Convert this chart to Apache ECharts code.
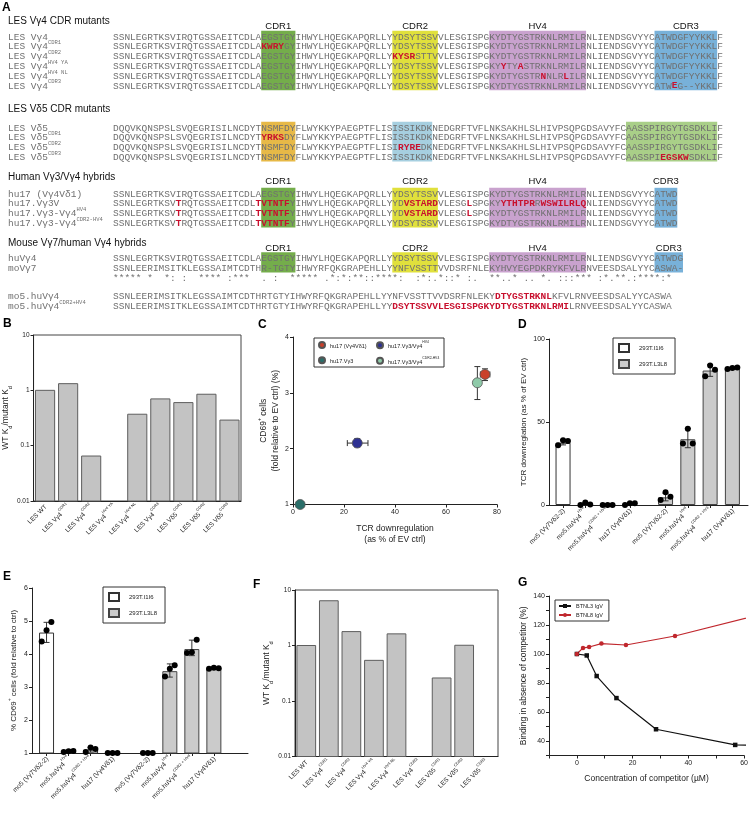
<!DOCTYPE html>
<html lang="en">
<head>
<meta charset="utf-8">
<title>Vγ4 CDR mutants and hybrids</title>
<script src="https://cdn.jsdelivr.net/npm/echarts@6.0.0/dist/echarts.min.js"></script>
</head>
<body style="margin:0;background:#fff">
<div id="main" style="width:751px;height:823px"></div>
<script>
// ---------- panel A : sequence alignments ----------
const regionNames = ['CDR1', 'CDR2', 'HV4', 'CDR3'];

const g4Labels = ['LES Vγ4', 'LES Vγ4^CDR1', 'LES Vγ4^CDR2', 'LES Vγ4^HV4 YA', 'LES Vγ4^HV4 NL', 'LES Vγ4^CDR3'];
const g4Seqs = [
  'SSNLEGRTKSVIRQTGSSAEITCDLAEGSTGYIHWYLHQEGKAPQRLLYYDSYTSSVVLESGISPGKYDTYGSTRKNLRMILRNLIENDSGVYYCATWDGFYYKKLF',
  'SSNLEGRTKSVIRQTGSSAEITCDLA[KWRY]GYIHWYLHQEGKAPQRLLYYDSYTSSVVLESGISPGKYDTYGSTRKNLRMILRNLIENDSGVYYCATWDGFYYKKLF',
  'SSNLEGRTKSVIRQTGSSAEITCDLAEGSTGYIHWYLHQEGKAPQRLLY[KYSR]STTVVLESGISPGKYDTYGSTRKNLRMILRNLIENDSGVYYCATWDGFYYKKLF',
  'SSNLEGRTKSVIRQTGSSAEITCDLAEGSTGYIHWYLHQEGKAPQRLLYYDSYTSSVVLESGISPGKY[Y]TY[A]STRKNLRMILRNLIENDSGVYYCATWDGFYYKKLF',
  'SSNLEGRTKSVIRQTGSSAEITCDLAEGSTGYIHWYLHQEGKAPQRLLYYDSYTSSVVLESGISPGKYDTYGSTR[N]NLR[L]ILRNLIENDSGVYYCATWDGFYYKKLF',
  'SSNLEGRTKSVIRQTGSSAEITCDLAEGSTGYIHWYLHQEGKAPQRLLYYDSYTSSVVLESGISPGKYDTYGSTRKNLRMILRNLIENDSGVYYCATW[E]G--YKKLF'
];
const g4Regions = [[27, 32], [50, 57], [67, 83], [96, 106]];

const d5Labels = ['LES Vδ5', 'LES Vδ5^CDR1', 'LES Vδ5^CDR2', 'LES Vδ5^CDR3'];
const d5Seqs = [
  'DQQVKQNSPSLSVQEGRISILNCDYTNSMFDYFLWYKKYPAEGPTFLISISSIKDKNEDGRFTVFLNKSAKHLSLHIVPSQPGDSAVYFCAASSPIRGYTGSDKLIF',
  'DQQVKQNSPSLSVQEGRISILNCDYT[YRKS]DYFLWYKKYPAEGPTFLISISSIKDKNEDGRFTVFLNKSAKHLSLHIVPSQPGDSAVYFCAASSPIRGYTGSDKLIF',
  'DQQVKQNSPSLSVQEGRISILNCDYTNSMFDYFLWYKKYPAEGPTFLISI[RYRE]DKNEDGRFTVFLNKSAKHLSLHIVPSQPGDSAVYFCAASSPIRGYTGSDKLIF',
  'DQQVKQNSPSLSVQEGRISILNCDYTNSMFDYFLWYKKYPAEGPTFLISISSIKDKNEDGRFTVFLNKSAKHLSLHIVPSQPGDSAVYFCAASSPI[EGSKW]SDKLIF'
];
const d5Regions = [[27, 32], [50, 56], [91, 106]];

const hybLabels = ['hu17 (Vγ4Vδ1)', 'hu17.Vγ3V', 'hu17.Vγ3-Vγ4^HV4', 'hu17.Vγ3-Vγ4^CDR2-HV4'];
const hybSeqs = [
  'SSNLEGRTKSVIRQTGSSAEITCDLAEGSTGYIHWYLHQEGKAPQRLLYYDSYTSSVVLESGISPGKYDTYGSTRKNLRMILRNLIENDSGVYYCATWD',
  'SSNLEGRTKSV[T]RQTGSSAEITCDL[TVTNTF]YIHWYLHQEGKAPQRLLYYD[VSTARD]VLESG[L]SPGKY[YTHTPR]R[WSWILRLQ]NLIENDSGVYYCATWD',
  'SSNLEGRTKSV[T]RQTGSSAEITCDL[TVTNTF]YIHWYLHQEGKAPQRLLYYD[VSTARD]VLESG[L]SPGKYDTYGSTRKNLRMILRNLIENDSGVYYCATWD',
  'SSNLEGRTKSV[T]RQTGSSAEITCDL[TVTNTF]YIHWYLHQEGKAPQRLLYYDSYTSSVVLESGISPGKYDTYGSTRKNLRMILRNLIENDSGVYYCATWD'
];
const hybRegions = [[27, 32], [50, 57], [67, 83], [96, 99]];

const moLabels = ['huVγ4', 'moVγ7', '', 'mo5.huVγ4', 'mo5.huVγ4^CDR2+HV4'];
const moSeqs = [
  'SSNLEGRTKSVIRQTGSSAEITCDLAEGSTGYIHWYLHQEGKAPQRLLYYDSYTSSVVLESGISPGKYDTYGSTRKNLRMILRNLIENDSGVYYCATWDG',
  'SSNLEERIMSITKLEGSSAIMTCDTHR-TGTYIHWYRFQKGRAPEHLLYYNFVSSTTVVDSRFNLEKYHVYEGPDKRYKFVLRNVEESDSALYYCASWA-',
  '***** *  *: :  **** :***  . :  ***** .*:*:**::****:  :*:.*::* :.  **..* .. *. :::*** :*.**.:****:*  ',
  'SSNLEERIMSITKLEGSSAIMTCDTHRTGTYIHWYRFQKGRAPEHLLYYNFVSSTTVVDSRFNLEKY[DTYGSTRKNL]KFVLRNVEESDSALYYCASWA',
  'SSNLEERIMSITKLEGSSAIMTCDTHRTGTYIHWYRFQKGRAPEHLLYY[DSYTSSVVLESGISPGKYDTYGSTRKNLRMI]LRNVEESDSALYYCASWA'
];
const moRegions = [[27, 32], [50, 57], [67, 83], [96, 100]];

// ---------- panels B and F : WT Kd / mutant Kd ----------
const kdNames = ['LES WT', 'LES Vγ4^CDR1', 'LES Vγ4^CDR2', 'LES Vγ4^HV4 YA', 'LES Vγ4^HV4 NL',
                 'LES Vγ4^CDR3', 'LES Vδ5^CDR1', 'LES Vδ5^CDR2', 'LES Vδ5^CDR3'];
const kdRatioB = [1.0, 1.32, 0.065, null, 0.37, 0.70, 0.60, 0.85, 0.29];
const kdRatioF = [1.0, 6.4, 1.78, 0.54, 1.62, null, 0.26, 1.01, null];

// ---------- panel C ----------
const cNames = ['hu17 (Vγ4Vδ1)', 'hu17.Vγ3/Vγ4^HV4', 'hu17.Vγ3', 'hu17.Vγ3/Vγ4^CDR2-HV4'];
const tcrDown = [75.3, 25.2, 2.8, 72.3];
const tcrDownErr = [[73.5, 77.2], [21.3, 29.4], [1.3, 4.2], [71.6, 73.0]];
const cd69Fold = [3.33, 2.10, 1.00, 3.18];
const cd69Err = [[3.22, 3.43], [2.03, 2.18], [0.98, 1.02], [2.88, 3.47]];

// ---------- panels D and E ----------
const cellLines = ['293T.I1I6', '293T.L3L8'];
const tcrLabels = ['mo5 (Vγ7Vδ2-2)', 'mo5.huVγ4^HV4', 'mo5.huVγ4^CDR2 + HV4', 'hu17 (Vγ4Vδ1)'];
const tcrI1I6 = [37.5, 0.5, 0, 0.6];
const tcrI1I6Pts = [[36, 39, 38.6], [0, 1.5, 0.3], [0, 0, 0], [0, 1, 1]];
const tcrI1I6Err = [[36.2, 39.4], [0, 1.4], [0, 0], [0, 1.1]];
const tcrL3L8 = [4.6, 39.6, 81, 82.5];
const tcrL3L8Pts = [[3, 7.7, 5], [37, 46, 37], [77.5, 84, 81.5], [82, 82.6, 82.8]];
const tcrL3L8Err = [[2.5, 7], [34.5, 46], [77.5, 84.5], [82, 83]];

const cd69I1I6 = [4.65, 1.05, 1.1, 1.0];
const cd69I1I6Pts = [[4.38, 4.72, 4.97], [1.03, 1.05, 1.06], [1.03, 1.17, 1.12], [1.0, 1.0, 1.0]];
const cd69I1I6Err = [[4.35, 4.96], [1.03, 1.07], [1.03, 1.17], [1, 1]];
const cd69L3L8 = [1.0, 3.48, 4.15, 3.57];
const cd69L3L8Pts = [[1, 1, 1], [3.32, 3.55, 3.66], [4.03, 4.05, 4.43], [3.55, 3.58, 3.57]];
const cd69L3L8Err = [[1, 1], [3.3, 3.7], [3.95, 4.42], [3.55, 3.6]];

// ---------- panel G ----------
const gNames = ['BTNL3 IgV', 'BTNL8 IgV'];
const concL3 = [0, 3.55, 7.1, 14.2, 28.4, 56.8, 113.6];
const bindL3 = [100, 99, 84.8, 69.6, 48.1, 37.3, 35.5];
const concL8 = [0, 2.2, 4.4, 8.8, 17.6, 35.2, 70.4];
const bindL8 = [100, 104.2, 104.8, 107.2, 106.2, 112.4, 129.5];

// ---------- drawing ----------
const SANS = 'Liberation Sans, Arial, sans-serif';
const MONO = 'Liberation Mono, Courier New, monospace';
const INK = '#222';

const seqX = 113, labelX = 8, monoSize = 9.5, cw = monoSize * 0.6;
const gfx = [];

const monoRich = {
  n: {fill: '#707070', fontSize: monoSize, fontFamily: MONO, lineHeight: 12, verticalAlign: 'bottom'},
  r: {fill: '#c8102e', fontSize: monoSize, fontFamily: MONO, fontWeight: 'bold', lineHeight: 12, verticalAlign: 'bottom'},
  s: {fill: '#707070', fontSize: 5.5, fontFamily: MONO, lineHeight: 4, verticalAlign: 'top'}
};

function txt(x, y, text, st) {
  gfx.push({type: 'text', x: x, y: y, z: 10, silent: true,
    style: Object.assign({text: text, verticalAlign: 'middle'}, st)});
}
function markSeq(s) {
  return ('{n|' + s.replace(/\[([^\]]*)\]/g, '}{r|$1}{n|') + '}').replace(/\{n\|\}/g, '');
}
function supFmt(s) {
  const k = s.indexOf('^');
  return k < 0 ? '{n|' + s + '}' : '{n|' + s.slice(0, k) + '}{s|' + s.slice(k + 1) + '}';
}
function richSup(size) {
  return {
    n: {fontSize: size, fontFamily: SANS, color: INK, lineHeight: size + 3, verticalAlign: 'bottom'},
    s: {fontSize: size * 0.62, fontFamily: SANS, color: INK, lineHeight: size * 0.5, verticalAlign: 'top'}
  };
}
const kdRich = {
  n: {fontSize: 8.5, fontFamily: SANS, color: INK, lineHeight: 12, verticalAlign: 'top'},
  d: {fontSize: 5.5, fontFamily: SANS, color: INK, lineHeight: 5, verticalAlign: 'bottom'}
};
const kdName = '{n|WT K}{d|d}{n|/mutant K}{d|d}';

function drawSection(title, titleY, labels, seqs, regions, colors, rowsY, boxRows, headerY) {
  txt(labelX, titleY, title, {font: '10px ' + SANS, fill: '#111'});
  regions.forEach(function (r, k) {
    const top = rowsY[0] - 5.2, bot = rowsY[boxRows - 1] + 5.2;
    gfx.push({type: 'rect', z: 1, silent: true,
      shape: {x: seqX + (r[0] - 1) * cw, y: top, width: (r[1] - r[0] + 1) * cw, height: bot - top},
      style: {fill: colors[k]}});
    if (headerY != null) {
      txt(seqX + (r[0] - 1 + r[1]) / 2 * cw, headerY, regionNames[k],
        {font: '9.5px ' + SANS, fill: '#111', align: 'center'});
    }
  });
  seqs.forEach(function (s, i) {
    if (labels[i]) {
      const k = labels[i].indexOf('^');
      const lab = k < 0 ? '{n|' + labels[i] + '}' : '{n|' + labels[i].slice(0, k) + '}{s|' + labels[i].slice(k + 1) + '}';
      txt(labelX, rowsY[i], lab, {rich: monoRich});
    }
    txt(seqX, rowsY[i], markSeq(s), {rich: monoRich});
  });
}
function rows(y0, n, step) {
  const out = [];
  for (let i = 0; i < n; i++) out.push(y0 + i * step);
  return out;
}

const g4Colors = ['#74ad4b', '#e0e03c', '#c9a2ce', '#78b1d9'];
const d5Colors = ['#e7b947', '#a6cfe0', '#a9cf88'];
drawSection('LES Vγ4 CDR mutants', 21, g4Labels, g4Seqs, g4Regions, g4Colors, rows(36, 6, 9.8), 6, 26.5);
drawSection('LES Vδ5 CDR mutants', 109, d5Labels, d5Seqs, d5Regions, d5Colors, rows(127, 4, 9.8), 4, null);
drawSection('Human Vγ3/Vγ4 hybrids', 177, hybLabels, hybSeqs, hybRegions, g4Colors, rows(193, 4, 9.8), 4, 181.5);
drawSection('Mouse Vγ7/human Vγ4 hybrids', 243, moLabels, moSeqs, moRegions, g4Colors,
  [257.5, 267.3, 277, 295.5, 305.3], 2, 248);

// panel letters
[['A', 2, 8], ['B', 3, 324], ['C', 258, 325], ['D', 518, 325], ['E', 3, 577], ['F', 253, 585], ['G', 518, 583]]
  .forEach(function (p) { txt(p[1], p[2], p[0], {font: 'bold 12px ' + SANS, fill: '#000'}); });

// legend frame for C
gfx.push({type: 'rect', z: 1, silent: true, shape: {x: 314, y: 338, width: 130, height: 29},
  style: {fill: 'none', stroke: '#333', lineWidth: 1}});

// ---------- renderers ----------
function logBar(params, api) {
  const top = api.coord([api.value(0), api.value(1)]);
  const cs = params.coordSys;
  const w = cs.width / kdNames.length * 0.83;
  return {type: 'rect', shape: {x: top[0] - w / 2, y: top[1], width: w, height: cs.y + cs.height - top[1]},
    style: {fill: '#c3c3c3', stroke: '#5e5e5e', lineWidth: 1}};
}
function vErr(params, api) {
  const x = api.value(0);
  const a = api.coord([x, api.value(1)]), b = api.coord([x, api.value(2)]);
  const c = 3, st = {stroke: '#333', lineWidth: 1};
  return {type: 'group', children: [
    {type: 'line', shape: {x1: a[0], y1: a[1], x2: b[0], y2: b[1]}, style: st},
    {type: 'line', shape: {x1: a[0] - c, y1: a[1], x2: a[0] + c, y2: a[1]}, style: st},
    {type: 'line', shape: {x1: b[0] - c, y1: b[1], x2: b[0] + c, y2: b[1]}, style: st}
  ]};
}
function hErr(params, api) {
  const y = api.value(2);
  const a = api.coord([api.value(0), y]), b = api.coord([api.value(1), y]);
  const c = 3, st = {stroke: '#333', lineWidth: 1};
  return {type: 'group', children: [
    {type: 'line', shape: {x1: a[0], y1: a[1], x2: b[0], y2: b[1]}, style: st},
    {type: 'line', shape: {x1: a[0], y1: a[1] - c, x2: a[0], y2: a[1] + c}, style: st},
    {type: 'line', shape: {x1: b[0], y1: b[1] - c, x2: b[0], y2: b[1] + c}, style: st}
  ]};
}

// ---------- shared axis styles ----------
const axLine = {show: true, onZero: false, lineStyle: {color: INK, width: 1}};
const axTick = {show: true, length: 3, lineStyle: {color: INK}};
const noSplit = {show: false};
function lab(size) { return {fontSize: size, color: INK, fontFamily: SANS, margin: 4}; }
function nameSt(size) { return {fontSize: size, color: INK, fontFamily: SANS, lineHeight: size + 3}; }

// D/E bar positions: two groups of four
const groupGap = 4.6;
const pos1 = [0, 1, 2, 3];
const pos2 = pos1.map(function (p) { return p + groupGap; });
const tcrPos = pos1.concat(pos2);
const tcrLab = tcrLabels.concat(tcrLabels);
const jitter = [-0.22, 0, 0.22];
function posLabel(v) {
  const k = tcrPos.findIndex(function (p) { return Math.abs(p - v) < 1e-6; });
  return k < 0 ? '' : supFmt(tcrLab[k]);
}
function dots(pts, pos) {
  const out = [];
  pts.forEach(function (g, i) { g.forEach(function (v, j) { out.push([pos[i] + jitter[j], v]); }); });
  return out;
}
function errs(e, pos) { return e.map(function (r, i) { return [pos[i], r[0], r[1]]; }); }
function barPts(v, pos) { return v.map(function (y, i) { return [pos[i], y]; }); }
function logData(v) {
  return v.map(function (y, i) { return y == null ? null : [i, y]; }).filter(function (d) { return d; });
}

function catAxis(grid) {
  return {gridIndex: grid, type: 'category', data: kdNames, axisLine: axLine, axisTick: {show: false},
    axisLabel: {interval: 0, rotate: 45, margin: 4, formatter: supFmt, rich: richSup(6.5)}};
}
function logAxis(grid) {
  return {gridIndex: grid, type: 'log', logBase: 10, min: 0.01, max: 10, axisLine: axLine, axisTick: axTick,
    axisLabel: lab(6.5), splitLine: noSplit, minorTick: {show: false},
    name: kdName, nameLocation: 'middle', nameGap: 15, nameTextStyle: {rich: kdRich}};
}
function posAxis(grid, min, max) {
  return {gridIndex: grid, type: 'value', min: min, max: max, axisLine: axLine,
    axisTick: {show: true, length: 3, lineStyle: {color: INK}, customValues: tcrPos},
    axisLabel: {customValues: tcrPos, formatter: posLabel, rotate: 45, margin: 4, rich: richSup(6.5)},
    splitLine: noSplit};
}

const legendBox = {orient: 'vertical', padding: [5, 8, 5, 5], itemGap: 6, itemWidth: 10, itemHeight: 8,
  icon: 'rect', borderColor: '#333', borderWidth: 1,
  textStyle: {fontSize: 6, color: INK, fontFamily: SANS, padding: [0, 0, 0, 5]}};

const option = {
  animation: false,
  textStyle: {fontFamily: SANS},
  graphic: gfx,
  grid: [
    {left: 33, top: 335, width: 208, height: 166, show: true, borderColor: '#444', borderWidth: 1},
    {left: 293, top: 337, width: 204, height: 167.5},
    {left: 549, top: 339, width: 199, height: 166},
    {left: 32, top: 588, width: 216, height: 165},
    {left: 295, top: 590, width: 203, height: 166.5, show: true, borderColor: '#444', borderWidth: 1},
    {left: 549, top: 596, width: 199, height: 159.5}
  ],
  xAxis: [
    catAxis(0),
    {gridIndex: 1, type: 'value', min: 0, max: 80, interval: 20, axisLine: axLine, axisTick: axTick,
      axisLabel: lab(7), splitLine: noSplit, name: 'TCR downregulation\n(as % of EV ctrl)',
      nameLocation: 'middle', nameGap: 18, nameTextStyle: nameSt(8.5)},
    posAxis(2, -0.63, 8.3),
    posAxis(3, -0.66, 9.15),
    catAxis(4),
    {gridIndex: 5, type: 'value', min: -10, max: 60, interval: 10, axisLine: axLine, axisTick: axTick,
      axisLabel: Object.assign(lab(7), {formatter: function (v) { return v % 20 === 0 ? v : ''; }}),
      splitLine: noSplit, name: 'Concentration of competitor (µM)', nameLocation: 'middle', nameGap: 17,
      nameTextStyle: nameSt(8.5)}
  ],
  yAxis: [
    logAxis(0),
    {gridIndex: 1, type: 'value', min: 1, max: 4, interval: 1, axisLine: axLine, axisTick: axTick,
      axisLabel: lab(7), splitLine: noSplit,
      name: '{n|CD69}{s|+}{n| cells}\n{n|(fold relative to EV ctrl) (%)}', nameLocation: 'middle', nameGap: 13,
      nameTextStyle: {rich: richSup(8.5)}},
    {gridIndex: 2, type: 'value', min: 0, max: 100, interval: 50, axisLine: axLine, axisTick: axTick,
      axisLabel: lab(7), splitLine: noSplit, name: 'TCR downreglation (as % of EV ctrl)',
      nameLocation: 'middle', nameGap: 16, nameTextStyle: nameSt(8)},
    {gridIndex: 3, type: 'value', min: 1, max: 6, interval: 1, axisLine: axLine, axisTick: axTick,
      axisLabel: lab(7), splitLine: noSplit,
      name: '{n|% CD69}{s|+}{n| cells (fold relative to ctrl)}', nameLocation: 'middle', nameGap: 14,
      nameTextStyle: {rich: richSup(8)}},
    logAxis(4),
    {gridIndex: 5, type: 'value', min: 30, max: 140, interval: 10, axisLine: axLine, axisTick: axTick,
      axisLabel: Object.assign(lab(7), {formatter: function (v) { return v >= 40 && v % 20 === 0 ? v : ''; }}),
      splitLine: noSplit, name: 'Binding in absence of competitor (%)', nameLocation: 'middle', nameGap: 20,
      nameTextStyle: nameSt(8.5)}
  ],
  legend: [
    {left: 318, top: 341, orient: 'vertical', padding: 0, itemGap: 7, itemWidth: 6, itemHeight: 6, icon: 'circle',
      data: [cNames[0], cNames[2]], formatter: supFmt, textStyle: {rich: richSup(5.5)}},
    {left: 376, top: 341, orient: 'vertical', padding: 0, itemGap: 7, itemWidth: 6, itemHeight: 6, icon: 'circle',
      data: [cNames[1], cNames[3]], formatter: supFmt, textStyle: {rich: richSup(5.5)}},
    Object.assign({left: 613, top: 338, data: cellLines}, legendBox),
    Object.assign({left: 103, top: 587, data: cellLines}, legendBox),
    {left: 555, top: 600, orient: 'vertical', padding: [3, 6, 3, 3], itemGap: 3, itemWidth: 12, itemHeight: 5,
      borderColor: '#333', borderWidth: 1, data: gNames,
      textStyle: {fontSize: 5.5, color: INK, fontFamily: SANS}}
  ],
  series: [
    // B
    {type: 'custom', xAxisIndex: 0, yAxisIndex: 0, renderItem: logBar, data: logData(kdRatioB)},
    // C
    {type: 'custom', xAxisIndex: 1, yAxisIndex: 1, renderItem: hErr, clip: false, z: 2,
      data: tcrDownErr.map(function (e, i) { return [e[0], e[1], cd69Fold[i]]; })},
    {type: 'custom', xAxisIndex: 1, yAxisIndex: 1, renderItem: vErr, clip: false, z: 2,
      data: cd69Err.map(function (e, i) { return [tcrDown[i], e[0], e[1]]; })}
  ].concat(cNames.map(function (n, i) {
    return {type: 'scatter', name: n, xAxisIndex: 1, yAxisIndex: 1, symbolSize: 10, clip: false, z: 5,
      data: [[tcrDown[i], cd69Fold[i]]],
      itemStyle: {color: ['#c9402b', '#2e3192', '#2b6f6a', '#8fcaa9'][i], borderColor: '#555', borderWidth: 0.8, opacity: 1}};
  })).concat([
    // D
    {type: 'bar', name: cellLines[0], xAxisIndex: 2, yAxisIndex: 2, barWidth: 15, barGap: '-100%',
      data: barPts(tcrI1I6, pos1), itemStyle: {color: '#ffffff', borderColor: '#333', borderWidth: 1}},
    {type: 'bar', name: cellLines[1], xAxisIndex: 2, yAxisIndex: 2, barWidth: 15, barGap: '-100%',
      data: barPts(tcrL3L8, pos2), itemStyle: {color: '#cbcbcb', borderColor: '#444', borderWidth: 1}},
    {type: 'custom', xAxisIndex: 2, yAxisIndex: 2, renderItem: vErr, clip: false, z: 3,
      data: errs(tcrI1I6Err, pos1).concat(errs(tcrL3L8Err, pos2))},
    {type: 'scatter', name: 'tcr dots', xAxisIndex: 2, yAxisIndex: 2, symbolSize: 6, clip: false, z: 4,
      itemStyle: {color: '#000', opacity: 1}, data: dots(tcrI1I6Pts, pos1).concat(dots(tcrL3L8Pts, pos2))},
    // E
    {type: 'bar', name: cellLines[0], xAxisIndex: 3, yAxisIndex: 3, barWidth: 15, barGap: '-100%',
      data: barPts(cd69I1I6, pos1), itemStyle: {color: '#ffffff', borderColor: '#333', borderWidth: 1}},
    {type: 'bar', name: cellLines[1], xAxisIndex: 3, yAxisIndex: 3, barWidth: 15, barGap: '-100%',
      data: barPts(cd69L3L8, pos2), itemStyle: {color: '#cbcbcb', borderColor: '#444', borderWidth: 1}},
    {type: 'custom', xAxisIndex: 3, yAxisIndex: 3, renderItem: vErr, clip: false, z: 3,
      data: errs(cd69I1I6Err, pos1).concat(errs(cd69L3L8Err, pos2))},
    {type: 'scatter', name: 'cd69 dots', xAxisIndex: 3, yAxisIndex: 3, symbolSize: 6, clip: false, z: 4,
      itemStyle: {color: '#000', opacity: 1}, data: dots(cd69I1I6Pts, pos1).concat(dots(cd69L3L8Pts, pos2))},
    // F
    {type: 'custom', xAxisIndex: 4, yAxisIndex: 4, renderItem: logBar, data: logData(kdRatioF)},
    // G
    {type: 'line', name: gNames[0], xAxisIndex: 5, yAxisIndex: 5, symbol: 'rect', symbolSize: 4.5,
      data: concL3.map(function (c, i) { return [c, bindL3[i]]; }),
      itemStyle: {color: '#111'}, lineStyle: {color: '#111', width: 1.2}},
    {type: 'line', name: gNames[1], xAxisIndex: 5, yAxisIndex: 5, symbol: 'circle', symbolSize: 4.5,
      data: concL8.map(function (c, i) { return [c, bindL8[i]]; }),
      itemStyle: {color: '#c0272d'}, lineStyle: {color: '#c0272d', width: 1.2}}
  ])
};

const chart = echarts.init(document.getElementById('main'), null, {renderer: 'canvas'});
chart.setOption(option);
</script>
</body>
</html>
